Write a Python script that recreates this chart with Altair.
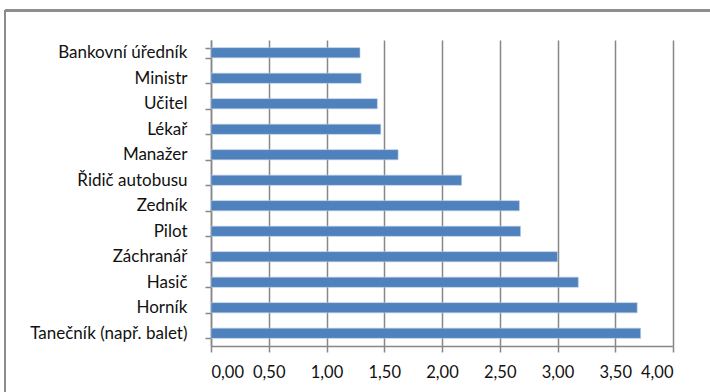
import altair as alt
import pandas as pd

occupations = [
    "Bankovní úředník", "Ministr", "Učitel", "Lékař", "Manažer",
    "Řidič autobusu", "Zedník", "Pilot", "Záchranář", "Hasič",
    "Horník", "Tanečník (např. balet)",
]
scores = [1.29, 1.30, 1.44, 1.47, 1.62, 2.17, 2.67, 2.68, 3.00, 3.18, 3.69, 3.72]

df = pd.DataFrame({"povolani": occupations, "hodnota": scores})

FONT = "Lato"
GRAY = "#878787"

bars = alt.Chart(df).mark_bar(color="#4F81BD", stroke="#B9CDE5", strokeWidth=0.6).encode(
    x=alt.X(
        "hodnota:Q",
        scale=alt.Scale(domain=[0, 4], nice=False),
        axis=alt.Axis(
            values=[0, 0.5, 1, 1.5, 2, 2.5, 3, 3.5, 4],
            labelExpr="replace(format(datum.value, '.2f'), '.', ',')",
            title=None,
            grid=True,
            gridColor=GRAY,
            gridWidth=1.5,
            domainColor=GRAY,
            domainWidth=1.5,
            tickColor=GRAY,
            tickWidth=1.5,
            tickSize=6,
            labelFont=FONT,
            labelFontSize=16.5,
            labelFontWeight="normal",
            labelColor="#111111",
            labelPadding=12,
        ),
    ),
    y=alt.Y(
        "povolani:N",
        sort=occupations,
        scale=alt.Scale(paddingInner=0.6, paddingOuter=0.3),
        axis=alt.Axis(
            title=None,
            grid=False,
            tickBand="extent",
            domainColor=GRAY,
            domainWidth=1.5,
            tickColor=GRAY,
            tickWidth=1.5,
            tickSize=6,
            labelFont=FONT,
            labelFontSize=17,
            labelFontWeight="normal",
            labelColor="#111111",
            labelPadding=18,
        ),
    ),
)

# outer frame of the chart area
frame_top = alt.Chart(df).mark_rule(color="#8C8C8C", strokeWidth=1.5).encode(
    x=alt.value(-206), x2=alt.value(520), y=alt.value(-29.5)
)
frame_left = alt.Chart(df).mark_rule(color="#8C8C8C", strokeWidth=1.5).encode(
    x=alt.value(-206), y=alt.value(-29.5), y2=alt.value(400)
)

chart = alt.layer(bars, frame_top, frame_left).properties(
    width=462,
    height=306,
    autosize=alt.AutoSizeParams(type="none"),
    padding={"left": 211, "top": 40, "right": 37, "bottom": 46},
    background="white",
).configure_view(stroke=None)

chart.save("out.html", embed_options={"renderer": "svg", "actions": False})
